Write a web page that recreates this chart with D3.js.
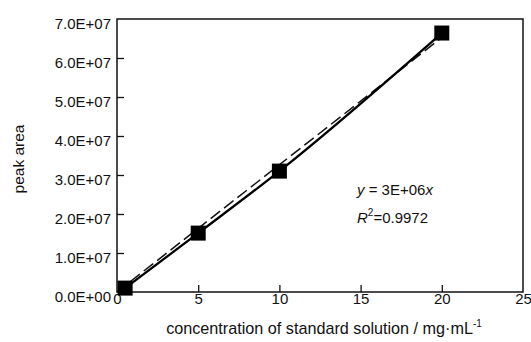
<!DOCTYPE html>
<html><head><meta charset="utf-8">
<script src="https://cdn.jsdelivr.net/npm/d3@7"></script>
<style>
body{margin:0;background:#fff;}
text{font-family:"Liberation Sans",Arial,sans-serif;fill:#111;}
</style></head>
<body><svg id="c" width="531" height="342"></svg>
<script>
const concentrations = [0.5, 5, 10, 20];
const peakAreas = [1.0e6, 1.51e7, 3.1e7, 6.64e7];
const xTicks = [0, 5, 10, 15, 20, 25];
const yTicks = [0, 1e7, 2e7, 3e7, 4e7, 5e7, 6e7, 7e7];
const yTickLabels = ["0.0E+00","1.0E+07","2.0E+07","3.0E+07","4.0E+07","5.0E+07","6.0E+07","7.0E+07"];
const trendSlope = 3.263e6;
const trendRange = [0, 20];

const svg = d3.select("#c");
const L=117, R=523, T=19, B=292;
const x = d3.scaleLinear().domain([0,25]).range([L,R]);
const y = d3.scaleLinear().domain([0,7e7]).range([B,T]);

// axes with inward ticks
const gx = svg.append("g").attr("transform",`translate(0,${B})`)
  .call(d3.axisBottom(x).tickValues(xTicks).tickSize(-7).tickPadding(1.5).tickFormat(d3.format("d")));
const gy = svg.append("g").attr("transform",`translate(${L},0)`)
  .call(d3.axisLeft(y).tickValues(yTicks).tickSize(-7).tickPadding(6).tickFormat((d,i)=>yTickLabels[i]));
[gx,gy].forEach(g=>{
  g.select(".domain").remove();
  g.selectAll(".tick line").attr("stroke","#111").attr("stroke-width",1.3);
  g.selectAll(".tick text").attr("font-size",15).attr("fill","#111").attr("font-family",null);
});
gx.selectAll(".tick line").filter(d=>d===0||d===25).remove();
gy.selectAll(".tick line").filter(d=>d===0||d===7e7).remove();
gy.selectAll(".tick text").attr("dy","0.64em");

// frame
svg.append("rect").attr("x",L).attr("y",T).attr("width",R-L).attr("height",B-T)
  .attr("fill","none").attr("stroke","#111").attr("stroke-width",1.5);

// trend line
const trend = trendRange.map(v=>[v, trendSlope*v]);
svg.append("path").datum(trend)
  .attr("d", d3.line().x(d=>x(d[0])).y(d=>y(d[1])))
  .attr("fill","none").attr("stroke","#111").attr("stroke-width",1.5)
  .attr("stroke-dasharray","12,5");

// data line
const pts = concentrations.map((c,i)=>[c, peakAreas[i]]);
svg.append("path").datum(pts)
  .attr("d", d3.line().x(d=>x(d[0])).y(d=>y(d[1])).curve(d3.curveMonotoneX))
  .attr("fill","none").attr("stroke","#000").attr("stroke-width",2.3);

// markers
const ms = 15;
svg.selectAll("rect.m").data(pts).enter().append("rect").attr("class","m")
  .attr("x",d=>x(d[0])-ms/2).attr("y",d=>y(d[1])-ms/2)
  .attr("width",ms).attr("height",ms).attr("fill","#000");

// axis titles
svg.append("text").attr("transform","translate(24,159) rotate(-90)")
  .attr("text-anchor","middle").attr("font-size",15.5).text("peak area");
const xt = svg.append("text").attr("x",324).attr("y",334).attr("text-anchor","middle").attr("font-size",16.2);
xt.append("tspan").text("concentration of standard solution / mg\u00b7mL");
xt.append("tspan").attr("dy",-7).attr("font-size",10).text("-1");

// equation
const e1 = svg.append("text").attr("x",357).attr("y",195).attr("font-size",15);
e1.append("tspan").attr("font-style","italic").text("y");
e1.append("tspan").text(" = 3E+06");
e1.append("tspan").attr("font-style","italic").text("x");
const e2 = svg.append("text").attr("x",357).attr("y",223).attr("font-size",15);
e2.append("tspan").attr("font-style","italic").text("R");
e2.append("tspan").attr("dy",-7).attr("font-size",10).text("2");
e2.append("tspan").attr("dy",7).text("=0.9972");
</script></body></html>
